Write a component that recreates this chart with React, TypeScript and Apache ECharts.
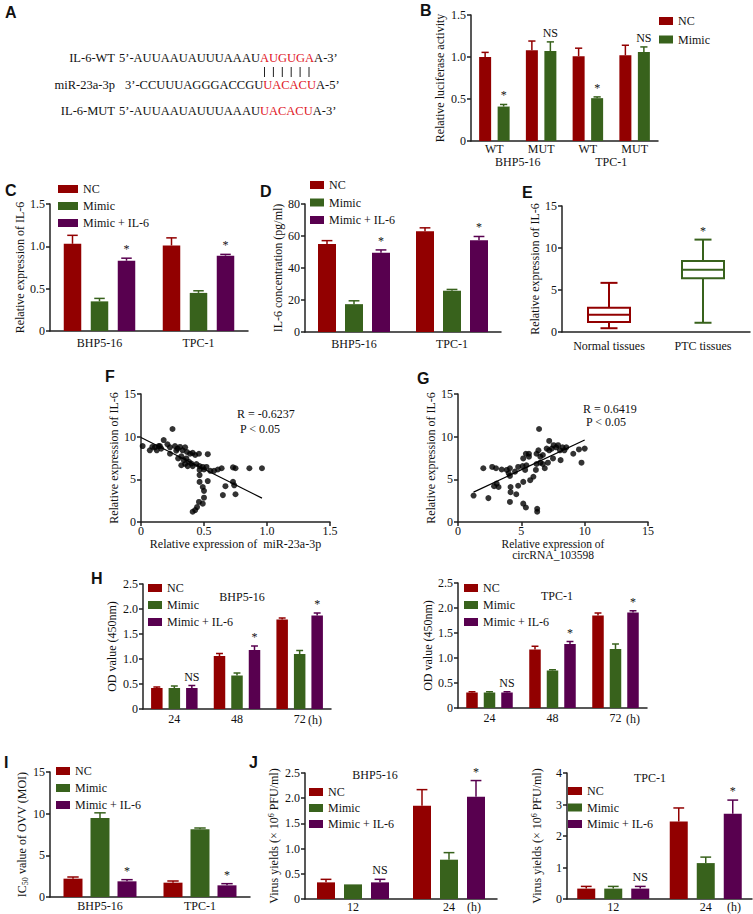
import React, { useEffect, useRef } from "react";
import * as echarts from "echarts";

const SERIF = "'Liberation Serif', 'Times New Roman', Times, serif";
const SANS = "'Liberation Sans', Arial, sans-serif";
const RED = "#920000";
const GREEN = "#38621c";
const PURPLE = "#58004f";
const SEQ_RED = "#e0141e";
const INK = "#111111";

// ---------- Panel A ----------
const seqLabels = ["IL-6-WT", "miR-23a-3p", "IL-6-MUT"];
const seqHeads = ["5’-AUUAAUAUUUAAAU", "3’-CCUUUAGGGACCGU", "5’-AUUAAUAUUUAAAU"];
const seqSites = ["AUGUGA", "UACACU", "UACACU"];
const seqTails = ["A-3’", "A-5’", "A-3’"];

// ---------- Panel B ----------
const bSites = ["WT", "MUT", "WT", "MUT"];
const bCells = ["BHP5-16", "TPC-1"];
const bNC = [1.0, 1.08, 1.01, 1.02];
const bNCErr = [0.055, 0.11, 0.095, 0.12];
const bMimic = [0.41, 1.07, 0.51, 1.06];
const bMimicErr = [0.025, 0.11, 0.015, 0.06];
const bMimicMarks = ["*", "NS", "*", "NS"];

// ---------- Panel C ----------
const cellLines = ["BHP5-16", "TPC-1"];
const cNC = [1.03, 1.01];
const cNCErr = [0.1, 0.09];
const cMimic = [0.35, 0.45];
const cMimicErr = [0.035, 0.025];
const cMimicIL6 = [0.83, 0.89];
const cMimicIL6Err = [0.03, 0.015];
const cMarks = ["*", "*"];

// ---------- Panel D ----------
const dNC = [55, 63];
const dNCErr = [2.1, 2.1];
const dMimic = [17.4, 25.8];
const dMimicErr = [2.1, 0.8];
const dMimicIL6 = [49.6, 57.3];
const dMimicIL6Err = [1.7, 2.4];
const dMarks = ["*", "*"];

// ---------- Panel E ----------
const eGroups = ["Normal tissues", "PTC tissues"];
const eNormal = [0.45, 1.2, 2.05, 2.9, 5.85];
const ePTC = [1.1, 6.4, 7.4, 8.45, 11.0];
const eMarks = ["", "*"];

// ---------- Panel F ----------
const fPoints: number[][] = [
  [0.013, 8.9], [0.25, 10.9], [0.07, 8.4], [0.09, 8.8], [0.11, 8.75], [0.125, 8.4], [0.14, 8.9],
  [0.15, 8.9], [0.16, 8.6], [0.18, 9.6], [0.21, 9.1], [0.23, 8.75], [0.23, 8.0], [0.27, 8.9],
  [0.28, 8.35], [0.29, 8.6], [0.31, 8.8], [0.33, 8.4], [0.35, 8.75], [0.365, 8.2], [0.39, 8.0],
  [0.41, 8.1], [0.43, 7.85], [0.46, 8.0], [0.53, 7.95], [0.295, 7.45], [0.32, 7.7], [0.34, 7.25],
  [0.36, 7.45], [0.38, 7.05], [0.4, 6.85], [0.32, 6.65], [0.35, 6.8], [0.37, 6.55], [0.41, 6.55],
  [0.44, 6.8], [0.465, 6.55], [0.49, 6.45], [0.5, 6.15], [0.465, 6.1], [0.52, 6.45], [0.55, 6.0],
  [0.58, 6.0], [0.61, 6.15], [0.64, 6.3], [0.73, 6.4], [0.75, 6.3], [0.86, 6.3], [0.96, 6.3],
  [0.465, 5.5], [0.465, 4.7], [0.53, 4.8], [0.49, 4.1], [0.5, 3.65], [0.5, 2.85], [0.49, 2.15],
  [0.46, 2.35], [0.445, 1.75], [0.43, 1.4], [0.41, 1.2], [0.67, 4.2], [0.65, 3.15], [0.73, 4.7],
  [0.74, 4.3], [0.75, 3.25],
];
const fFit = [[0, 9.9], [0.96, 2.8]];
const fStats = ["R = -0.6237", " P < 0.05"];

// ---------- Panel G ----------
const gPoints: number[][] = [
  [1.23, 3.1], [2.4, 2.8], [2.0, 6.3], [2.7, 6.45], [3.0, 6.3], [3.45, 6.15], [3.85, 6.1],
  [4.1, 6.3], [4.0, 5.7], [4.1, 5.4], [4.5, 5.9], [4.75, 6.45], [5.1, 6.55], [5.3, 6.1],
  [5.4, 6.65], [5.15, 7.45], [5.36, 8.0], [5.6, 8.0], [5.6, 7.65], [6.2, 8.0], [6.35, 8.4],
  [6.5, 7.65], [6.7, 7.85], [7.0, 8.6], [7.2, 8.4], [7.2, 9.5], [7.4, 8.6], [7.55, 9.0],
  [7.75, 8.75], [7.9, 9.0], [8.05, 8.4], [8.25, 8.75], [8.4, 8.4], [8.55, 8.75], [9.1, 8.0],
  [9.55, 8.5], [10.0, 8.6], [9.75, 6.95], [8.1, 7.25], [7.5, 7.45], [7.1, 6.95], [6.7, 6.8],
  [6.5, 6.95], [6.2, 6.8], [6.15, 6.1], [5.95, 5.3], [5.7, 4.9], [5.15, 4.7], [4.75, 4.25],
  [4.6, 3.25], [4.15, 4.1], [4.15, 3.5], [4.1, 2.35], [3.05, 4.5], [2.85, 4.2], [3.2, 4.1],
  [5.15, 2.15], [5.36, 1.7], [6.25, 1.55], [6.25, 1.2], [6.4, 10.9], [6.85, 6.3],
];
const gFit = [[1.23, 3.5], [10.0, 9.6]];
const gStats = ["R = 0.6419", " P < 0.05"];
const gXTitle = ["Relative expression of", "circRNA_103598"];

// ---------- Panel H ----------
const hTimes = ["24", "48", "72"];
const hBhpNC = [0.42, 1.06, 1.79];
const hBhpNCErr = [0.02, 0.05, 0.03];
const hBhpMimic = [0.42, 0.67, 1.1];
const hBhpMimicErr = [0.04, 0.05, 0.07];
const hBhpMimicIL6 = [0.42, 1.18, 1.87];
const hBhpMimicIL6Err = [0.05, 0.08, 0.05];
const hTpcNC = [0.31, 1.17, 1.85];
const hTpcNCErr = [0.015, 0.065, 0.05];
const hTpcMimic = [0.31, 0.75, 1.18];
const hTpcMimicErr = [0.015, 0.015, 0.1];
const hTpcMimicIL6 = [0.31, 1.28, 1.91];
const hTpcMimicIL6Err = [0.015, 0.05, 0.035];
const hMarks = ["NS", "*", "*"];

// ---------- Panel I ----------
const iNC = [2.2, 1.72];
const iNCErr = [0.2, 0.2];
const iMimic = [9.48, 8.12];
const iMimicErr = [0.62, 0.16];
const iMimicIL6 = [1.88, 1.4];
const iMimicIL6Err = [0.2, 0.2];
const iMarks = ["*", "*"];

// ---------- Panel J ----------
const jTimes = ["12", "24"];
const jBhpNC = [0.33, 1.85];
const jBhpNCErr = [0.06, 0.32];
const jBhpMimic = [0.29, 0.78];
const jBhpMimicErr = [0, 0.14];
const jBhpMimicIL6 = [0.33, 2.03];
const jBhpMimicIL6Err = [0.06, 0.32];
const jTpcNC = [0.33, 2.46];
const jTpcNCErr = [0.07, 0.43];
const jTpcMimic = [0.33, 1.14];
const jTpcMimicErr = [0.07, 0.19];
const jTpcMimicIL6 = [0.33, 2.71];
const jTpcMimicIL6Err = [0.07, 0.43];
const jMarks = ["NS", "*"];

const GROUP_NAMES = ["NC", "Mimic", "Mimic + IL-6"];
const GROUP_COLORS = [RED, GREEN, PURPLE];

const dec1 = (v: number) => (v === 0 ? "0" : v.toFixed(1));

const axisLineStyle = { show: true, lineStyle: { color: "#222", width: 1.5 } };
const tickStyle = { show: true, length: 4, lineStyle: { color: "#222", width: 1.5 } };
const labelBase = { color: INK, fontFamily: SERIF, fontSize: 12 };

function txt(x: number, y: number, text: string, extra: any = {}) {
  const align = extra.align || "left";
  const va = extra.verticalAlign || "middle";
  return {
    type: "text",
    x,
    y,
    silent: true,
    style: {
      text,
      fill: INK,
      fontFamily: SERIF,
      fontSize: 12,
      ...extra,
      align,
      verticalAlign: va,
      textAlign: align,
      textVerticalAlign: va,
    },
  };
}

function markText(x: number, y: number, m: string) {
  return {
    type: "text",
    x,
    y,
    silent: true,
    style: {
      text: m,
      fill: INK,
      stroke: "none",
      fontFamily: SERIF,
      fontSize: 12,
      align: "center",
      verticalAlign: "bottom",
      textAlign: "center",
      textVerticalAlign: "bottom",
    },
  };
}

function buildOption() {
  const grid: any[] = [];
  const xAxis: any[] = [];
  const yAxis: any[] = [];
  const series: any[] = [];
  const legend: any[] = [];
  const graphic: any[] = [];

  const yAx = (gi: number, min: number, max: number, interval: number, name: string, nameGap: number, fmt?: any, rich?: any) => ({
    type: "value",
    gridIndex: gi,
    min,
    max,
    interval,
    splitLine: { show: false },
    axisLine: axisLineStyle,
    axisTick: tickStyle,
    axisLabel: { ...labelBase, margin: 5, formatter: fmt },
    name,
    nameLocation: "middle",
    nameGap,
    nameTextStyle: { color: INK, fontFamily: SERIF, fontSize: 12, rich },
  });

  const catAx = (gi: number, data: string[], margin: number) => ({
    type: "category",
    gridIndex: gi,
    data,
    axisLine: axisLineStyle,
    axisTick: { show: false },
    axisLabel: { ...labelBase, margin, interval: 0 },
  });

  const barGroups = (
    gi: number,
    groups: { values: number[]; errs: number[]; marks?: string[] }[],
    w: number,
    gap: number,
    names: string[] = GROUP_NAMES
  ) => {
    const n = groups.length;
    groups.forEach((g, k) => {
      series.push({
        type: "bar",
        name: names[k],
        xAxisIndex: gi,
        yAxisIndex: gi,
        data: g.values,
        barWidth: w,
        barGap: `${(gap / w) * 100}%`,
        itemStyle: { color: GROUP_COLORS[k] },
      });
    });
    groups.forEach((g, k) => {
      const offset = (k - (n - 1) / 2) * (w + gap);
      const cap = w * 0.6;
      const color = GROUP_COLORS[k];
      const marks = g.marks;
      series.push({
        type: "custom",
        name: `err-${gi}-${k}`,
        xAxisIndex: gi,
        yAxisIndex: gi,
        z: 5,
        data: g.values.map((v, i) => [i, v, g.errs[i]]),
        renderItem: (params: any, api: any) => {
          const i = api.value(0);
          const v = api.value(1);
          const e = api.value(2);
          const base = api.coord([i, v]);
          const top = api.coord([i, v + e]);
          const x = base[0] + offset;
          const children: any[] = [];
          if (e > 0) {
            children.push({ type: "line", shape: { x1: x, y1: base[1], x2: x, y2: top[1] }, style: { stroke: color, lineWidth: 1.5 } });
            children.push({ type: "line", shape: { x1: x - cap / 2, y1: top[1], x2: x + cap / 2, y2: top[1] }, style: { stroke: color, lineWidth: 1.5 } });
          }
          const m = marks ? marks[params.dataIndex] : "";
          if (m) children.push(markText(x, top[1] - 3, m));
          return { type: "group", children };
        },
      });
    });
  };

  const addLegend = (left: number, top: number, names: string[], iconW: number, spacing: number) => {
    legend.push({
      data: names,
      left,
      top,
      orient: "vertical",
      icon: "rect",
      itemWidth: iconW,
      itemHeight: 8,
      itemGap: spacing - 14,
      padding: 0,
      selectedMode: false,
      textStyle: { color: INK, fontFamily: SERIF, fontSize: 12, lineHeight: 14 },
    });
  };

  // ===== B (grid 0) =====
  grid.push({ left: 471, top: 15, width: 187, height: 126 });
  xAxis.push(catAx(0, bSites, 2));
  yAxis.push(yAx(0, 0, 1.5, 0.5, "Relative luciferase activity", 25, dec1));
  barGroups(0, [
    { values: bNC, errs: bNCErr },
    { values: bMimic, errs: bMimicErr, marks: bMimicMarks },
  ], 12, 6.5);
  addLegend(659, 14, ["NC", "Mimic"], 14, 18.5);

  // ===== C (grid 1) =====
  grid.push({ left: 50, top: 204, width: 198, height: 127 });
  xAxis.push(catAx(1, cellLines, 6));
  yAxis.push(yAx(1, 0, 1.5, 0.5, "Relative expression of IL-6", 24, dec1));
  barGroups(1, [
    { values: cNC, errs: cNCErr },
    { values: cMimic, errs: cMimicErr },
    { values: cMimicIL6, errs: cMimicIL6Err, marks: cMarks },
  ], 17.5, 9.5);
  addLegend(58, 182, GROUP_NAMES, 20, 17);

  // ===== D (grid 2) =====
  grid.push({ left: 305, top: 204, width: 196, height: 128 });
  xAxis.push(catAx(2, cellLines, 6));
  yAxis.push(yAx(2, 0, 80, 20, "IL-6 concentration (pg/ml)", 17));
  barGroups(2, [
    { values: dNC, errs: dNCErr },
    { values: dMimic, errs: dMimicErr },
    { values: dMimicIL6, errs: dMimicIL6Err, marks: dMarks },
  ], 18, 9);
  addLegend(310, 178, GROUP_NAMES, 14, 17.5);

  // ===== E (grid 3) =====
  grid.push({ left: 562, top: 206, width: 188, height: 126 });
  xAxis.push(catAx(3, eGroups, 8));
  yAxis.push(yAx(3, 0, 15, 5, "Relative expression of IL-6", 16));
  const eColors = [RED, GREEN];
  series.push({
    type: "custom",
    name: "box-E",
    xAxisIndex: 3,
    yAxisIndex: 3,
    data: [eNormal, ePTC].map((b, i) => [i, ...b]),
    renderItem: (params: any, api: any) => {
      const idx = api.value(0);
      const mn = api.coord([idx, api.value(1)]);
      const q1 = api.coord([idx, api.value(2)]);
      const md = api.coord([idx, api.value(3)]);
      const q3 = api.coord([idx, api.value(4)]);
      const mx = api.coord([idx, api.value(5)]);
      const x = md[0];
      const half = 21;
      const capHalf = 8.5;
      const color = eColors[params.dataIndex];
      const st = { stroke: color, lineWidth: 2, fill: "none" };
      const children: any[] = [
        { type: "line", shape: { x1: x, y1: q3[1], x2: x, y2: mx[1] }, style: st },
        { type: "line", shape: { x1: x, y1: q1[1], x2: x, y2: mn[1] }, style: st },
        { type: "line", shape: { x1: x - capHalf, y1: mx[1], x2: x + capHalf, y2: mx[1] }, style: st },
        { type: "line", shape: { x1: x - capHalf, y1: mn[1], x2: x + capHalf, y2: mn[1] }, style: st },
        { type: "rect", shape: { x: x - half, y: q3[1], width: half * 2, height: q1[1] - q3[1] }, style: { stroke: color, lineWidth: 2, fill: "#fff" } },
        { type: "line", shape: { x1: x - half, y1: md[1], x2: x + half, y2: md[1] }, style: st },
      ];
      const m = eMarks[params.dataIndex];
      if (m) children.push(markText(x, mx[1] - 3, m));
      return { type: "group", children };
    },
  });

  // ===== F (grid 4) =====
  grid.push({ left: 141, top: 394, width: 189, height: 128 });
  xAxis.push({
    type: "value",
    gridIndex: 4,
    min: 0,
    max: 1.5,
    interval: 0.5,
    splitLine: { show: false },
    axisLine: axisLineStyle,
    axisTick: tickStyle,
    axisLabel: { ...labelBase, margin: 3, formatter: dec1 },
    name: "Relative expression of  miR-23a-3p",
    nameLocation: "middle",
    nameGap: 14,
    nameTextStyle: { color: INK, fontFamily: SERIF, fontSize: 12 },
  });
  yAxis.push(yAx(4, 0, 15, 5, "Relative expression of IL-6", 17));
  series.push({ type: "scatter", name: "F-pts", xAxisIndex: 4, yAxisIndex: 4, data: fPoints, symbolSize: 6, itemStyle: { color: "#000" } });
  series.push({ type: "line", name: "F-fit", xAxisIndex: 4, yAxisIndex: 4, data: fFit, symbol: "none", lineStyle: { color: "#000", width: 1.2 } });

  // ===== G (grid 5) =====
  grid.push({ left: 458, top: 394, width: 190, height: 128 });
  xAxis.push({
    type: "value",
    gridIndex: 5,
    min: 0,
    max: 15,
    interval: 5,
    splitLine: { show: false },
    axisLine: axisLineStyle,
    axisTick: tickStyle,
    axisLabel: { ...labelBase, margin: 3 },
    name: gXTitle[0],
    nameLocation: "middle",
    nameGap: 12,
    nameTextStyle: { color: INK, fontFamily: SERIF, fontSize: 11.5 },
  });
  yAxis.push(yAx(5, 0, 15, 5, "Relative expression of IL-6", 15));
  series.push({ type: "scatter", name: "G-pts", xAxisIndex: 5, yAxisIndex: 5, data: gPoints, symbolSize: 6, itemStyle: { color: "#000" } });
  series.push({ type: "line", name: "G-fit", xAxisIndex: 5, yAxisIndex: 5, data: gFit, symbol: "none", lineStyle: { color: "#000", width: 1.2 } });

  // ===== H left (grid 6) =====
  grid.push({ left: 143, top: 584, width: 188, height: 125 });
  xAxis.push(catAx(6, hTimes, 4));
  yAxis.push(yAx(6, 0, 2.5, 0.5, "OD value (450nm)", 25, dec1));
  barGroups(6, [
    { values: hBhpNC, errs: hBhpNCErr },
    { values: hBhpMimic, errs: hBhpMimicErr },
    { values: hBhpMimicIL6, errs: hBhpMimicIL6Err, marks: hMarks },
  ], 11.5, 6);
  addLegend(148, 581, GROUP_NAMES, 14, 17);

  // ===== H right (grid 7) =====
  grid.push({ left: 458, top: 583, width: 189, height: 125 });
  xAxis.push(catAx(7, hTimes, 4));
  yAxis.push(yAx(7, 0, 2.5, 0.5, "OD value (450nm)", 24, dec1));
  barGroups(7, [
    { values: hTpcNC, errs: hTpcNCErr },
    { values: hTpcMimic, errs: hTpcMimicErr },
    { values: hTpcMimicIL6, errs: hTpcMimicIL6Err, marks: hMarks },
  ], 11.5, 6);
  addLegend(464, 581, GROUP_NAMES, 14, 17);

  // ===== I (grid 8) =====
  grid.push({ left: 50, top: 772, width: 200, height: 125 });
  xAxis.push(catAx(8, cellLines, 3));
  yAxis.push(
    yAx(8, 0, 15, 5, "IC{sub|50} value of OVV (MOI)", 16, undefined, {
      sub: { fontSize: 8, fontFamily: SERIF, color: INK, verticalAlign: "bottom", lineHeight: 14 },
    })
  );
  barGroups(8, [
    { values: iNC, errs: iNCErr },
    { values: iMimic, errs: iMimicErr },
    { values: iMimicIL6, errs: iMimicIL6Err, marks: iMarks },
  ], 19, 8);
  addLegend(56, 764, GROUP_NAMES, 14, 17);

  // ===== J left (grid 9) =====
  const supRich = { sup: { fontSize: 8, fontFamily: SERIF, color: INK, verticalAlign: "top", lineHeight: 14 } };
  grid.push({ left: 305, top: 773, width: 192, height: 126 });
  xAxis.push(catAx(9, jTimes, 2));
  yAxis.push(yAx(9, 0, 2.5, 0.5, "Virus yields (× 10{sup|6} PFU/ml)", 24, dec1, supRich));
  barGroups(9, [
    { values: jBhpNC, errs: jBhpNCErr },
    { values: jBhpMimic, errs: jBhpMimicErr },
    { values: jBhpMimicIL6, errs: jBhpMimicIL6Err, marks: jMarks },
  ], 18, 9);
  addLegend(309, 785, GROUP_NAMES, 14, 16);

  // ===== J right (grid 10) =====
  grid.push({ left: 567, top: 773, width: 185, height: 126 });
  xAxis.push(catAx(10, jTimes, 2));
  yAxis.push(yAx(10, 0, 4, 1, "Virus yields (× 10{sup|6} PFU/ml)", 23, undefined, supRich));
  barGroups(10, [
    { values: jTpcNC, errs: jTpcNCErr },
    { values: jTpcMimic, errs: jTpcMimicErr },
    { values: jTpcMimicIL6, errs: jTpcMimicIL6Err, marks: jMarks },
  ], 18, 9);
  addLegend(568, 784, GROUP_NAMES, 14, 16.5);

  // ===== B second label row (xAxis 11) =====
  xAxis.push({
    type: "category",
    gridIndex: 0,
    data: bCells,
    position: "bottom",
    offset: 13,
    axisLine: { show: false },
    axisTick: { show: false },
    axisLabel: { ...labelBase, margin: 2, interval: 0 },
  });

  // ===== Graphic: panel letters =====
  const letters: [string, number, number][] = [
    ["A", 5, 4], ["B", 420, 2], ["C", 5, 182], ["D", 260, 183], ["E", 522, 184],
    ["F", 105, 368], ["G", 417, 370], ["H", 91, 570], ["I", 4, 754], ["J", 249, 754],
  ];
  letters.forEach(([t, x, y]) =>
    graphic.push(txt(x, y, t, { fontFamily: SANS, fontSize: 16, fontWeight: "bold", verticalAlign: "top" }))
  );

  // ===== Panel A sequences =====
  const rowY = [58, 85, 111];
  const seqX = [119, 125, 119];
  seqLabels.forEach((lab, r) => {
    graphic.push(txt(115, rowY[r], lab, { fontSize: 12.5, align: "right" }));
    graphic.push(
      txt(seqX[r], rowY[r], `${seqHeads[r]}{r|${seqSites[r]}}${seqTails[r]}`, {
        fontSize: 12.5,
        rich: { r: { fill: SEQ_RED, fontSize: 12.5, fontFamily: SERIF } },
      })
    );
  });
  for (let k = 0; k < seqSites[0].length; k++) {
    const x = 264.5 + k * 8.9;
    graphic.push({ type: "line", silent: true, shape: { x1: x, y1: 67, x2: x, y2: 77 }, style: { stroke: "#222", lineWidth: 1 } });
  }

  // ===== Stats texts & titles =====
  graphic.push(txt(237, 414, fStats[0]));
  graphic.push(txt(237, 429, fStats[1]));
  graphic.push(txt(583, 409, gStats[0]));
  graphic.push(txt(583, 422, gStats[1]));
  graphic.push(txt(553, 549, gXTitle[1], { align: "center", fontSize: 11.5, verticalAlign: "top" }));
  graphic.push(txt(242, 597, "BHP5-16", { align: "center" }));
  graphic.push(txt(557, 596, "TPC-1", { align: "center" }));
  graphic.push(txt(375, 775, "BHP5-16", { align: "center" }));
  graphic.push(txt(650, 778, "TPC-1", { align: "center" }));
  graphic.push(txt(308, 720, "(h)"));
  graphic.push(txt(626, 719, "(h)"));
  graphic.push(txt(467, 907, "(h)"));
  graphic.push(txt(727, 907, "(h)"));

  return {
    animation: false,
    backgroundColor: "#fff",
    textStyle: { fontFamily: SERIF },
    grid,
    xAxis,
    yAxis,
    legend,
    series,
    graphic,
  };
}

export default function App() {
  const ref = useRef<HTMLDivElement>(null);
  useEffect(() => {
    const chart = echarts.init(ref.current!, null, { renderer: "svg" });
    chart.setOption(buildOption() as any);
    return () => chart.dispose();
  }, []);
  return (
    <div
      ref={ref}
      style={{ position: "absolute", left: 0, top: 0, width: 753, height: 914, background: "#fff" }}
    />
  );
}
